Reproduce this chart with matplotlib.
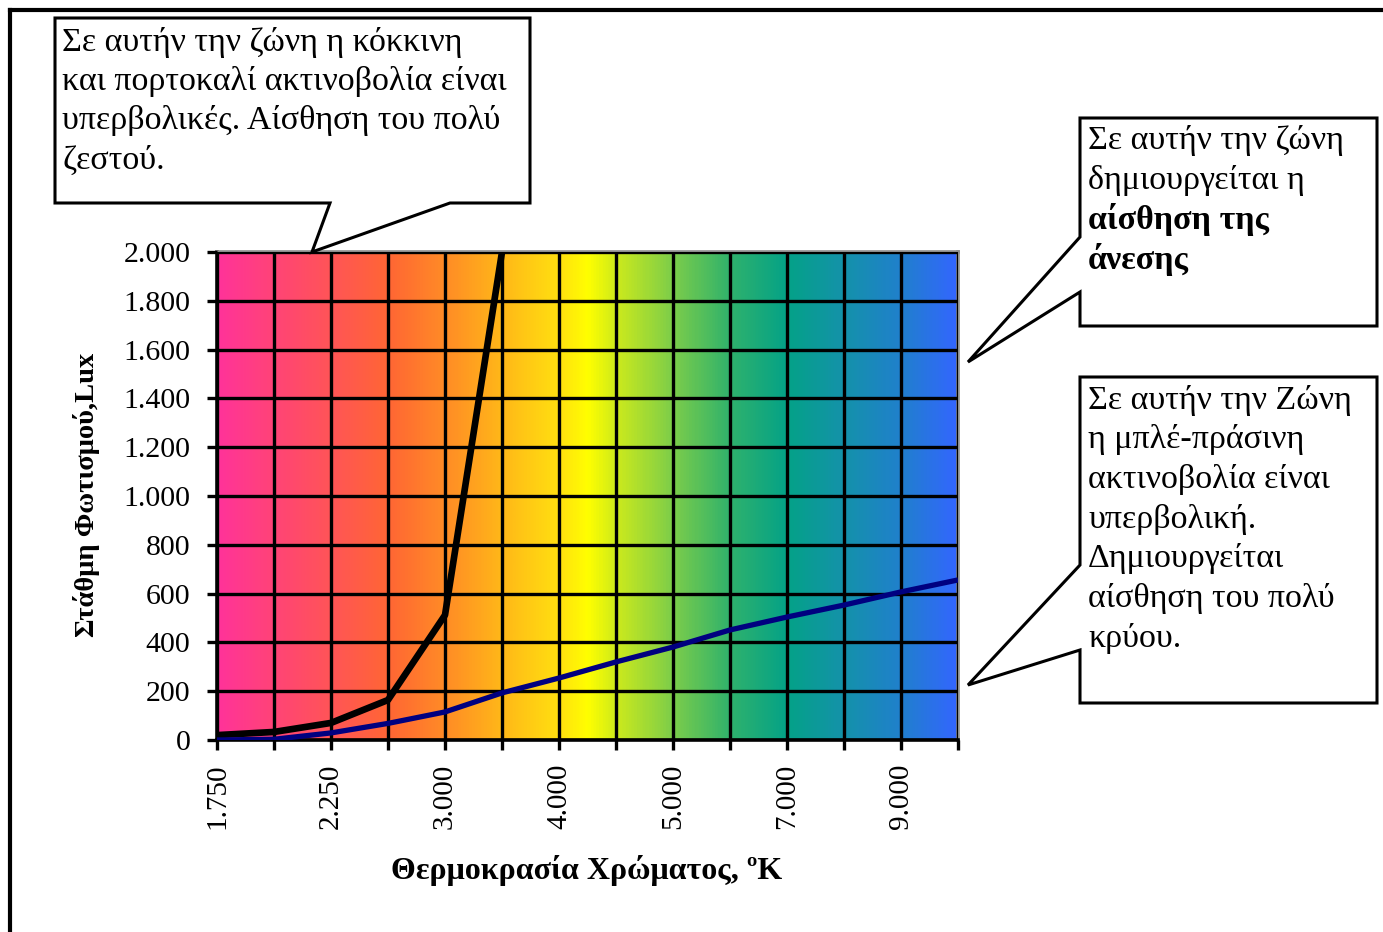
import numpy as np
import matplotlib
matplotlib.use("Agg")
import matplotlib.pyplot as plt
from matplotlib.colors import LinearSegmentedColormap
from matplotlib.patches import Polygon
from matplotlib.lines import Line2D

# ---------------- data ----------------
categories = [1750, 2000, 2250, 2500, 3000, 3500, 4000, 4500, 5000, 6000, 7000, 8000, 9000, 10000]
labelled = [1750, 2250, 3000, 4000, 5000, 7000, 9000]
black_curve = [20, 33, 70, 164, 512, 2000]            # upper limit (ends at 3500 K)
blue_curve = [0, 3, 29, 68, 115, 193, 254, 320, 381, 451, 504, 553, 607, 656]
y_ticks = [0, 200, 400, 600, 800, 1000, 1200, 1400, 1600, 1800, 2000]

box1_lines = ["Σε αυτήν την ζώνη η κόκκινη",
              "και πορτοκαλί ακτινοβολία είναι",
              "υπερβολικές. Αίσθηση του πολύ",
              "ζεστού."]
box2_lines = ["Σε αυτήν την ζώνη", "δημιουργείται η"]
box2_bold = ["αίσθηση της", "άνεσης"]
box3_lines = ["Σε αυτήν την Ζώνη", "η μπλέ-πράσινη", "ακτινοβολία είναι",
              "υπερβολική.", "Δημιουργείται", "αίσθηση του πολύ", "κρύου."]
xlabel = "Θερμοκρασία Χρώματος, ºK"
ylabel = "Στάθμη Φωτισμού,Lux"

def fmt(v):
    return f"{v:,}".replace(",", ".")

# ---------------- figure ----------------
W, H = 1383, 932
fig = plt.figure(figsize=(W / 100, H / 100), dpi=100)
fig.patch.set_facecolor("white")
SERIF = ["Liberation Serif", "DejaVu Serif"]

def fx(x):
    return x / W

def fy(y):
    return 1 - y / H

# outer frame
fig.add_artist(Line2D([fx(10), fx(10)], [fy(10), fy(935)], color="black", lw=3, transform=fig.transFigure))
fig.add_artist(Line2D([fx(10), fx(1390)], [fy(10), fy(10)], color="black", lw=3, transform=fig.transFigure))

ax = fig.add_axes([fx(217), fy(740), (958 - 217) / W, (740 - 252) / H])
x = np.arange(len(categories))
ax.set_xlim(0, len(categories) - 1)
ax.set_ylim(0, 2000)

# gradient background
stops = [(0, "#ff3399"), (1, "#ff4476"), (2, "#ff5556"), (3, "#ff6634"), (4, "#ff8c26"),
         (5, "#ffb818"), (6, "#ffe010"), (6.5, "#ffff00"), (7, "#cdea1c"), (8, "#7ccd4a"),
         (9, "#30b26c"), (10, "#04a287"), (11, "#1492aa"), (12, "#2080cc"), (13, "#3366ff")]
n = len(categories) - 1
cmap = LinearSegmentedColormap.from_list("cct", [(p / n, c) for p, c in stops])
grad = np.linspace(0, 1, 800).reshape(1, -1)
ax.imshow(grad, cmap=cmap, aspect="auto", extent=(0, n, 0, 2000), zorder=0, interpolation="bilinear")

# grid
ax.set_xticks(x)
ax.set_xticklabels([fmt(c) if c in labelled else "" for c in categories], rotation=90,
                   family=SERIF, fontsize=21)
ax.set_yticks(y_ticks)
ax.set_yticklabels([fmt(v) for v in y_ticks], family=SERIF, fontsize=21.5)
ax.grid(True, color="black", lw=2.4, zorder=1)
ax.set_axisbelow(False)
ax.tick_params(axis="both", direction="out", length=7, width=2.4, color="black")
ax.tick_params(axis="x", pad=10)
ax.tick_params(axis="y", pad=12)

for s in ["left", "bottom"]:
    ax.spines[s].set_color("black")
    ax.spines[s].set_linewidth(2.6)
for s in ["top", "right"]:
    ax.spines[s].set_color("#8c8c8c")
    ax.spines[s].set_linewidth(2.6)

# series
ax.plot(x[:len(black_curve)], black_curve, color="black", lw=4.8, zorder=3, solid_capstyle="butt")
ax.plot(x, blue_curve, color="#000080", lw=3.8, zorder=3, solid_capstyle="butt")

# axis labels
fig.text(fx(587), fy(871), xlabel, ha="center", va="center", family=SERIF,
         fontweight="bold", fontsize=23)
fig.text(fx(87), fy(495), ylabel, ha="center", va="center", rotation=90, family=SERIF,
         fontweight="bold", fontsize=20.5)

# callouts
def callout(pts):
    poly = Polygon([(fx(a), fy(b)) for a, b in pts], closed=True, facecolor="white",
                   edgecolor="black", lw=2.2, transform=fig.transFigure, zorder=5)
    fig.add_artist(poly)

callout([(55, 18), (530, 18), (530, 203), (450, 203), (312, 252), (330, 203), (55, 203)])
callout([(1080, 118), (1377, 118), (1377, 326), (1080, 326), (1080, 292), (968, 362), (1080, 237)])
callout([(1080, 377), (1377, 377), (1377, 703), (1080, 703), (1080, 650), (968, 685), (1080, 565)])

def lines_at(x0, y0, lines, step, bold=False):
    for i, t in enumerate(lines):
        fig.text(fx(x0), fy(y0 + i * step), t, ha="left", va="center", family=SERIF,
                 fontsize=24.5, fontweight="bold" if bold else "normal", zorder=6)

lines_at(62, 42, box1_lines, 39.5)
lines_at(1088, 140, box2_lines, 40)
lines_at(1088, 220, box2_bold, 40, bold=True)
lines_at(1088, 400, box3_lines, 39.7)

fig.savefig("out.png", dpi=100)
